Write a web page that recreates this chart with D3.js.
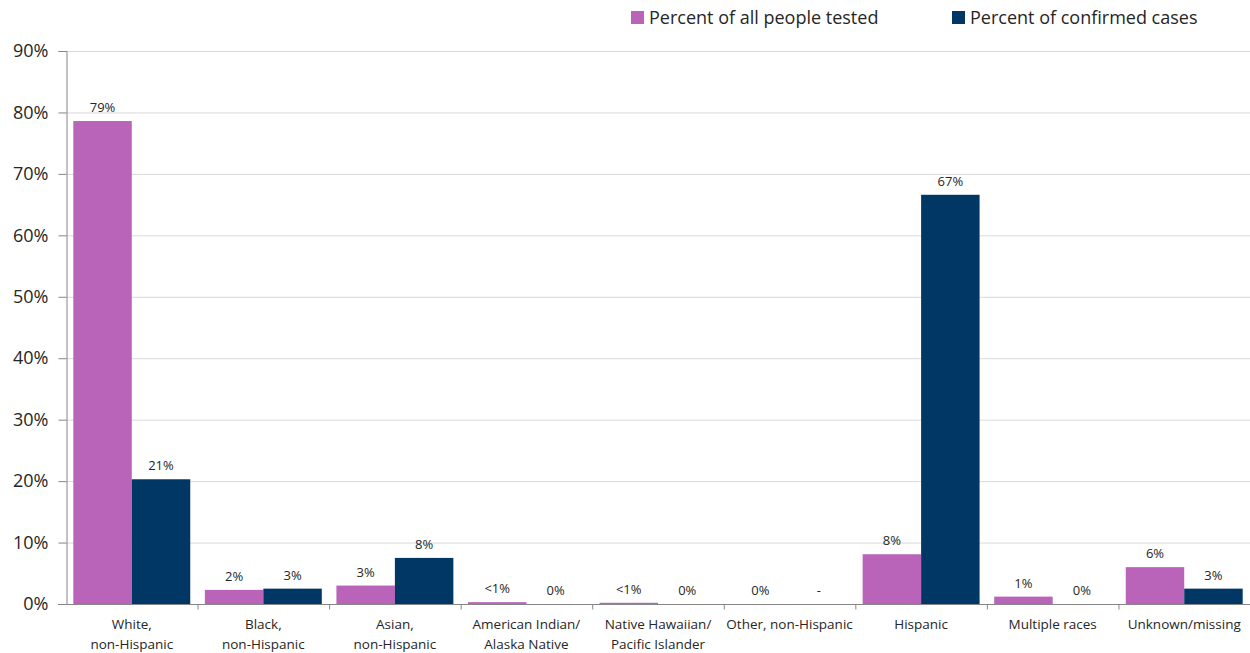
<!DOCTYPE html>
<html>
<head>
  <meta charset='utf-8' />
  <title>Testing and cases by race/ethnicity</title>
  <style>
    body { margin: 0; background: #fff; }
    svg text { font-family: 'Open Sans', sans-serif; fill: #262626; }
  </style>
</head>
<body>
  <div id="wrapper"></div>

<script src='https://d3js.org/d3.v7.min.js' charset='utf-8'></script>
<script>
  // categories, two lines each
  const categories = [
    ['White,', 'non-Hispanic'],
    ['Black,', 'non-Hispanic'],
    ['Asian,', 'non-Hispanic'],
    ['American Indian/', 'Alaska Native'],
    ['Native Hawaiian/', 'Pacific Islander'],
    ['Other, non-Hispanic'],
    ['Hispanic'],
    ['Multiple races'],
    ['Unknown/missing']
  ]
  const tested = [78.6, 2.3, 3.0, 0.3, 0.2, 0, 8.1, 1.2, 6.0]
  const confirmed = [20.3, 2.5, 7.5, 0, 0, 0, 66.6, 0, 2.5]
  const testedLabels = ['79%', '2%', '3%', '<1%', '<1%', '0%', '8%', '1%', '6%']
  const confirmedLabels = ['21%', '3%', '8%', '0%', '0%', '-', '67%', '0%', '3%']
  const seriesNames = ['Percent of all people tested', 'Percent of confirmed cases']
  const colors = ['#b963b9', '#003764']
  const yTicks = [0, 10, 20, 30, 40, 50, 60, 70, 80, 90]

  const width = 1250, height = 653
  const margin = { top: 51, right: 0, bottom: 49, left: 66 }

  const svg = d3.select('#wrapper')
    .append('svg')
      .attr('width', width)
      .attr('height', height)

  const x = d3.scaleBand()
    .domain(d3.range(categories.length))
    .range([margin.left, width - margin.right])

  const inner = d3.scaleBand()
    .domain([0, 1])
    .range([0, x.bandwidth()])
    .paddingOuter(0.125)

  const y = d3.scaleLinear()
    .domain([0, 90])
    .range([height - margin.bottom, margin.top])

  // gridlines
  svg.append('g')
    .selectAll('line')
    .data(yTicks.slice(1))
    .join('line')
      .attr('x1', margin.left)
      .attr('x2', width - margin.right)
      .attr('y1', d => y(d) + 0.5)
      .attr('y2', d => y(d) + 0.5)
      .attr('stroke', '#d9d9d9')

  // y axis
  const yAxis = svg.append('g')
    .attr('transform', `translate(${margin.left + 0.5},0)`)
    .call(d3.axisLeft(y).tickValues(yTicks).tickFormat(d => d + '%').tickSize(8).tickPadding(10))
  yAxis.select('.domain').attr('stroke', '#868686')
  yAxis.selectAll('.tick line').attr('stroke', '#868686')
  yAxis.selectAll('.tick text').style('font-size', '18px').attr('fill', '#262626')

  // bars
  const series = [tested, confirmed]
  const labels = [testedLabels, confirmedLabels]

  series.forEach((vals, s) => {
    svg.append('g')
      .selectAll('rect')
      .data(vals)
      .join('rect')
        .attr('x', (d, i) => x(i) + inner(s))
        .attr('width', inner.bandwidth())
        .attr('y', d => y(d))
        .attr('height', d => y(0) - y(d))
        .attr('fill', colors[s])

    svg.append('g')
      .selectAll('text')
      .data(vals)
      .join('text')
        .attr('x', (d, i) => x(i) + inner(s) + inner.bandwidth() / 2)
        .attr('y', d => y(d) - 9)
        .attr('text-anchor', 'middle')
        .style('font-size', '13px')
        .text((d, i) => labels[s][i])
  })

  // x axis
  const xAxis = svg.append('g')
    .attr('transform', `translate(0,${y(0) + 0.5})`)
  xAxis.append('line')
    .attr('x1', margin.left - 8)
    .attr('x2', width - margin.right)
    .attr('stroke', '#868686')
  xAxis.selectAll('.tk')
    .data(d3.range(1, categories.length + 1))
    .join('line')
      .attr('class', 'tk')
      .attr('x1', d => x.step() * d + margin.left + 0.5)
      .attr('x2', d => x.step() * d + margin.left + 0.5)
      .attr('y1', 0)
      .attr('y2', 5)
      .attr('stroke', '#868686')

  xAxis.selectAll('.cat')
    .data(categories)
    .join('text')
      .attr('class', 'cat')
      .attr('x', (d, i) => x(i) + x.bandwidth() / 2)
      .attr('text-anchor', 'middle')
      .style('font-size', '13.5px')
      .selectAll('tspan')
      .data(d => d)
      .join('tspan')
        .attr('x', function () { return this.parentNode.getAttribute('x') })
        .attr('y', (d, i) => 24 + i * 20)
        .text(d => d)

  // legend
  const legendX = [631, 952]
  const legend = svg.append('g')
  seriesNames.forEach((name, i) => {
    legend.append('rect')
      .attr('x', legendX[i])
      .attr('y', 11)
      .attr('width', 13)
      .attr('height', 13)
      .attr('fill', colors[i])
    legend.append('text')
      .attr('x', legendX[i] + 18)
      .attr('y', 24)
      .style('font-size', '18px')
      .text(name)
  })
</script>
</body>
</html>
